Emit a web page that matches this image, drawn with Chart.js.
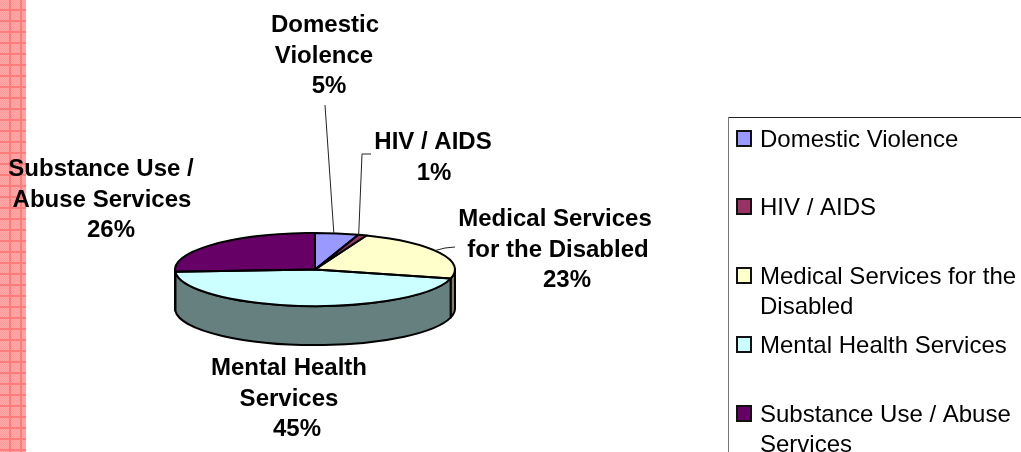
<!DOCTYPE html>
<html>
<head>
<meta charset="utf-8">
<style>
  html, body { margin: 0; padding: 0; background: #fff; overflow: hidden; }
  #wrap { position: relative; width: 1021px; height: 452px; }
  /* pink ruled strip down the left edge */
  #strip {
    position: absolute; left: 0; top: 0; width: 26px; height: 452px;
    background-color: #ff9c9c;
    background-image:
      linear-gradient(to right, transparent 9.5px, #ff7c7c 9.5px, #ff7c7c 11px, transparent 11px),
      linear-gradient(to bottom, transparent 9.5px, #ff7c7c 9.5px, #ff7c7c 11px, transparent 11px),
      repeating-conic-gradient(#ffacac 0 25%, #ff9a9a 0 50%);
    background-size: 11px 11px, 11px 11px, 2px 2px;
  }
  canvas { position: absolute; left: 0; top: 0; }
</style>
</head>
<body>
<div id="wrap">
  <div id="strip"></div>
  <canvas id="pie_chart" width="1021" height="452"></canvas>
</div>
<script src="https://cdn.jsdelivr.net/npm/chart.js@4"></script>
<script>
const categories = ['Domestic Violence', 'HIV / AIDS', 'Medical Services for the Disabled', 'Mental Health Services', 'Substance Use / Abuse Services'];
const values = [5, 1, 23, 45, 26];
const colors = ['#9999ff', '#993366', '#ffffcc', '#ccffff', '#660066'];
const wallColors = ['#666699', '#662244', '#808066', '#668080', '#440044'];

const squash = 0.261;   // vertical flattening of the pie
const depth = 39;       // height of the side wall
const font = '"Liberation Sans", Arial, sans-serif';

// outside labels: text lines, centre x of each line, first baseline, leader route
// anchor is how far along the slice the leader starts
const sliceLabels = [
  { lines: ['Domestic', 'Violence', values[0] + '%'], x: [325, 324, 329], y: 32, anchor: 0.43, elbow: [[325, 105]] },
  { lines: ['HIV / AIDS', values[1] + '%'], x: [433, 434], y: 149, anchor: 0.05, elbow: [[362, 154], [371, 154]] },
  { lines: ['Medical Services', 'for the Disabled', values[2] + '%'], x: [555, 558, 567], y: 226, anchor: 0.45, elbow: [[445, 248], [455, 247]] },
  { lines: ['Mental Health', 'Services', values[3] + '%'], x: [289, 289, 297], y: 375, anchor: 0, elbow: null },
  { lines: ['Substance Use /', 'Abuse Services', values[4] + '%'], x: [101, 102, 111], y: 176, anchor: 0, elbow: null }
];

// legend rows: wrapped text and the y of each line's middle
const legendRows = [
  { lines: ['Domestic Violence'], y: [140] },
  { lines: ['HIV / AIDS'], y: [208] },
  { lines: ['Medical Services for the', 'Disabled'], y: [277, 307] },
  { lines: ['Mental Health Services'], y: [346] },
  { lines: ['Substance Use / Abuse', 'Services'], y: [415, 445] }
];

function arcPath(ctx, arc, from, to) {
  // chart angles, ellipse flattened around the pie centre
  ctx.ellipse(arc.x, arc.y, arc.outerRadius, arc.outerRadius * squash, 0, from, to);
}

// flattens the slices while Chart.js draws them, adds the wall below
const tiltPlugin = {
  id: 'tilt',
  beforeDatasetsDraw(chart) {
    const ctx = chart.ctx;
    const arcs = chart.getDatasetMeta(0).data;
    ctx.save();
    ctx.lineJoin = 'round';
    arcs.forEach((arc, i) => {
      // only the front half of the rim is visible (0 to PI in canvas angles)
      const from = Math.max(arc.startAngle, 0);
      const to = Math.min(arc.endAngle, Math.PI);
      if (to <= from) return;
      const rx = arc.outerRadius, ry = rx * squash;
      ctx.beginPath();
      ctx.ellipse(arc.x, arc.y, rx, ry, 0, from, to);
      ctx.ellipse(arc.x, arc.y + depth, rx, ry, 0, to, from, true);
      ctx.closePath();
      ctx.fillStyle = wallColors[i];
      ctx.fill();
      ctx.lineWidth = 2;
      ctx.strokeStyle = '#000';
      ctx.stroke();
    });
    ctx.restore();
    ctx.save();
    const a = arcs[0];
    ctx.translate(a.x, a.y);
    ctx.scale(1, squash);
    ctx.translate(-a.x, -a.y);
  },
  afterDatasetsDraw(chart) {
    const ctx = chart.ctx;
    ctx.restore();
    const arcs = chart.getDatasetMeta(0).data;
    // slice outlines, stroked unscaled so the line stays even
    ctx.save();
    ctx.strokeStyle = '#000';
    ctx.lineWidth = 2;
    ctx.lineJoin = 'round';
    arcs.forEach(arc => {
      ctx.beginPath();
      ctx.moveTo(arc.x, arc.y);
      arcPath(ctx, arc, arc.startAngle, arc.endAngle);
      ctx.closePath();
      ctx.stroke();
    });
    ctx.restore();
    drawLeaders(ctx, arcs);
    drawSliceLabels(ctx);
    drawLegend(ctx);
  }
};

function drawLeaders(ctx, arcs) {
  ctx.save();
  ctx.strokeStyle = '#222';
  ctx.lineWidth = 1;
  sliceLabels.forEach((label, i) => {
    if (!label.elbow) return;
    const arc = arcs[i];
    const at = arc.startAngle + (arc.endAngle - arc.startAngle) * label.anchor;
    ctx.beginPath();
    ctx.moveTo(arc.x + arc.outerRadius * Math.cos(at), arc.y + arc.outerRadius * squash * Math.sin(at));
    label.elbow.forEach(p => ctx.lineTo(p[0], p[1]));
    ctx.stroke();
  });
  ctx.restore();
}

function drawSliceLabels(ctx) {
  ctx.save();
  ctx.fillStyle = '#000';
  ctx.font = 'bold 24px ' + font;
  ctx.textAlign = 'center';
  ctx.textBaseline = 'alphabetic';
  sliceLabels.forEach(label => {
    label.lines.forEach((line, i) => ctx.fillText(line, label.x[i], label.y + i * 30.5));
  });
  ctx.restore();
}

function drawLegend(ctx) {
  ctx.save();
  // frame runs off the right and bottom of the page
  ctx.lineWidth = 1;
  ctx.beginPath();
  ctx.moveTo(1021, 117.5);
  ctx.lineTo(728.5, 117.5);
  ctx.strokeStyle = '#222';
  ctx.stroke();
  ctx.beginPath();
  ctx.moveTo(728.5, 117);
  ctx.lineTo(728.5, 452);
  ctx.strokeStyle = '#777';
  ctx.stroke();

  ctx.font = '24px ' + font;
  ctx.textAlign = 'left';
  ctx.textBaseline = 'middle';
  legendRows.forEach((row, i) => {
    const top = row.y[0] - 9;
    ctx.fillStyle = colors[i];
    ctx.fillRect(737, top, 14, 15);
    ctx.strokeStyle = '#111';
    ctx.lineWidth = 2;
    ctx.strokeRect(737, top, 14, 15);
    ctx.fillStyle = '#000';
    row.lines.forEach((line, j) => ctx.fillText(line, 760, row.y[j]));
  });
  ctx.restore();
}

new Chart(document.getElementById('pie_chart').getContext('2d'), {
  type: 'pie',
  data: {
    labels: categories,
    datasets: [{
      data: values,
      backgroundColor: colors,
      borderWidth: 0
    }]
  },
  options: {
    responsive: false,
    animation: false,
    radius: 140,
    layout: { padding: { left: 0, right: 391, top: 87, bottom: 0 } },
    plugins: { legend: { display: false }, tooltip: { enabled: false } }
  },
  plugins: [tiltPlugin]
});
</script>
</body>
</html>
